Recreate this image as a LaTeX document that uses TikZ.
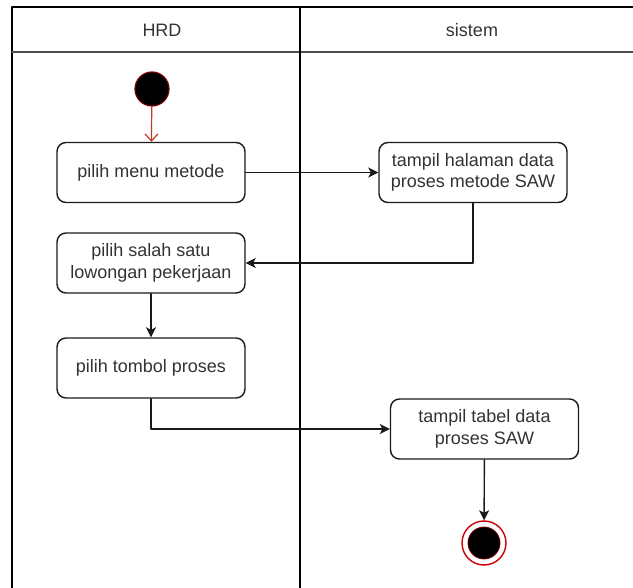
\documentclass[tikz,border=0pt]{standalone}
\usepackage{fontspec}
\setmainfont{Liberation Sans}
\usetikzlibrary{arrows.meta}
\definecolor{teks}{HTML}{333333}
\definecolor{garis}{HTML}{1A1A1A}
\definecolor{merah}{HTML}{C0392B}
\tikzset{
	aksi/.style={draw=garis,line width=1.4,rounded corners=9,fill=white,text=teks,
		minimum width=188,minimum height=60,align=center,font=\fontsize{18}{21.5}\selectfont},
	alur/.style={draw=garis,line width=1.4,-{Stealth[length=10,width=10,inset=2.5]}},
	judul/.style={text=teks,font=\fontsize{18}{21.5}\selectfont}
}
\begin{document}
\begin{tikzpicture}[x=1pt,y=-1pt,line join=round,line cap=round]
	\useasboundingbox (0,0) rectangle (633,588);
	% swimlane
	\draw[black,line width=2] (12,588) -- (12,7) -- (633,7);
	\draw[black!70,line width=2] (12,52) -- (633,52);
	\draw[black,line width=1.4] (300,7) -- (300,588);
	\node[judul] (hrd) at (162,30) {HRD};
	\node[judul] (sistem) at (472,30) {sistem};
	% state awal dan akhir
	\node[circle,fill=black,draw=red!45!black,line width=1.2,minimum size=34,inner sep=0] (mulai) at (152,89) {};
	\node[circle,fill=white,draw=red!80!black,line width=1.4,minimum size=44,inner sep=0] (selesai) at (484,543) {};
	\fill[black] (selesai) circle (16);
	\draw[red!45!black,line width=0.8] (selesai) circle (16);
	% aktivitas
	\node[aksi] (menu) at (151,172.5) {pilih menu metode};
	\node[aksi] (lowongan) at (151,263) {pilih salah satu\\lowongan pekerjaan};
	\node[aksi] (tombol) at (151,368) {pilih tombol proses};
	\node[aksi] (halaman) at (473,172.5) {tampil halaman data\\proses metode SAW};
	\node[aksi] (tabel) at (484.5,429) {tampil tabel data\\proses SAW};
	% alur
	\draw[merah,line width=1.2,-{Straight Barb[length=7,width=13]}] (mulai) -- (menu);
	\draw[alur] (menu) -- (halaman);
	\draw[alur] (halaman.south) |- (lowongan.east);
	\draw[alur] (lowongan) -- (tombol);
	\draw[alur] (tombol.south) |- (tabel.west);
	\draw[alur] (tabel) -- (selesai);
\end{tikzpicture}
\end{document}
